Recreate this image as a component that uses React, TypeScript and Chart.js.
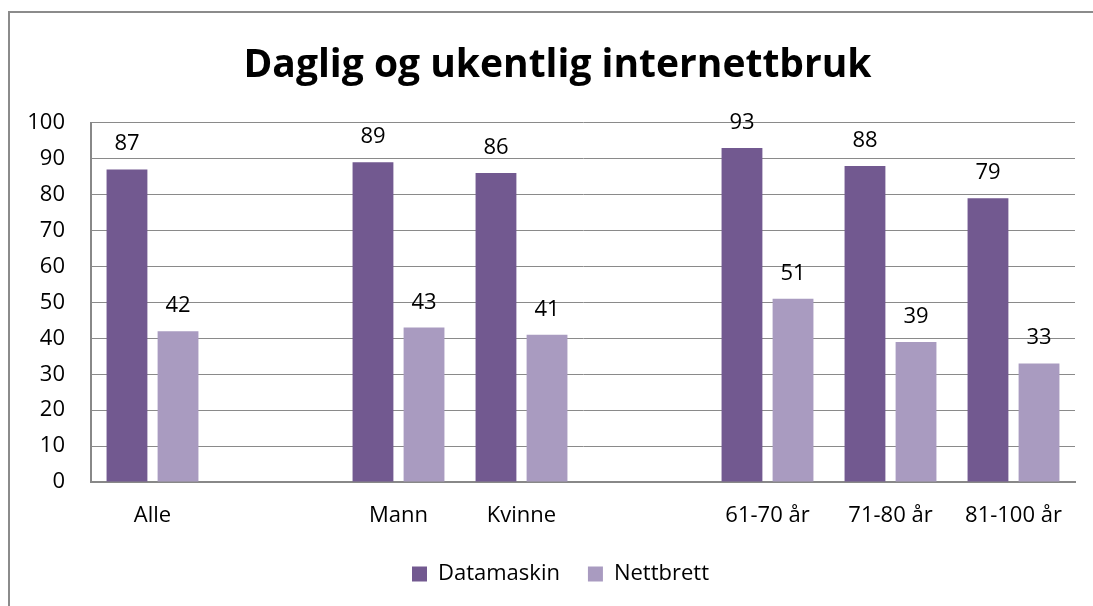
import React, { useEffect, useRef } from "react";
import { Chart, registerables } from "chart.js";

Chart.register(...registerables);

const categories = ["Alle", "", "Mann", "Kvinne", "", "61-70 år", "71-80 år", "81-100 år"];
const datamaskin = [87, null, 89, 86, null, 93, 88, 79];
const nettbrett = [42, null, 43, 41, null, 51, 39, 33];
const yTicks = [0, 10, 20, 30, 40, 50, 60, 70, 80, 90, 100];

const FONT = "'Open Sans', 'Noto Sans', sans-serif";

const valueLabels = {
  id: "valueLabels",
  afterDatasetsDraw(chart: any) {
    const ctx = chart.ctx;
    ctx.save();
    ctx.font = `22px ${FONT}`;
    ctx.fillStyle = "#000";
    ctx.textAlign = "center";
    ctx.textBaseline = "alphabetic";
    chart.data.datasets.forEach((ds: any, i: number) => {
      const meta = chart.getDatasetMeta(i);
      meta.data.forEach((el: any, j: number) => {
        const v = ds.data[j];
        if (v === null || v === undefined) return;
        ctx.fillText(String(v), el.x, el.y - 19);
      });
    });
    ctx.restore();
  },
};

const shiftBoxes = {
  id: "shiftBoxes",
  afterLayout(chart: any) {
    if (chart.titleBlock) {
      chart.titleBlock.left += 20;
      chart.titleBlock.right += 20;
    }
    if (chart.legend) {
      chart.legend.left += 23;
      chart.legend.right += 23;
    }
  },
};

export default function App() {
  const ref = useRef<HTMLCanvasElement | null>(null);
  useEffect(() => {
    if (!ref.current) return;
    const chart = new Chart(ref.current, {
      type: "bar",
      data: {
        labels: categories,
        datasets: [
          { label: "Datamaskin", data: datamaskin, backgroundColor: "#725990" },
          { label: "Nettbrett", data: nettbrett, backgroundColor: "#a99bc0" },
        ],
      },
      options: {
        animation: false,
        responsive: false,
        maintainAspectRatio: false,
        layout: { padding: { left: 0, right: 18, top: 42, bottom: 17 } },
        datasets: { bar: { categoryPercentage: 0.83, barPercentage: 0.8 } },
        plugins: {
          title: {
            display: true,
            text: "Daglig og ukentlig internettbruk",
            color: "#000",
            font: { family: FONT, size: 39, weight: "bold" },
            padding: { top: 0, bottom: 34 },
          },
          legend: {
            position: "bottom",
            labels: {
              color: "#000",
              font: { family: FONT, size: 22 },
              boxWidth: 15,
              boxHeight: 15,
              padding: 28,
            },
          },
          tooltip: { enabled: false },
        },
        scales: {
          x: {
            grid: { display: false, drawTicks: false },
            border: { display: true, color: "#888", width: 2 },
            ticks: { color: "#000", font: { family: FONT, size: 22 }, padding: 21, maxRotation: 0 },
            afterFit(scale: any) {
              scale.height = 53;
            },
          },
          y: {
            min: 0,
            max: 100,
            afterBuildTicks(scale: any) {
              scale.ticks = yTicks.map((v) => ({ value: v }));
            },
            grid: { color: "#8a8a8a", lineWidth: 1, drawTicks: false },
            border: { display: true, color: "#888", width: 2 },
            ticks: { color: "#000", font: { family: FONT, size: 22 }, padding: 26 },
            afterFit(scale: any) {
              scale.width = 91;
            },
          },
        },
      },
      plugins: [valueLabels, shiftBoxes],
    });
    return () => chart.destroy();
  }, []);

  return (
    <div style={{ position: "fixed", left: 0, top: 0, width: 1093, height: 606, overflow: "hidden", background: "#fff" }}>
      <div
        style={{
          position: "absolute",
          left: 8,
          top: 11,
          width: 1200,
          height: 800,
          borderLeft: "2px solid #8b8b8b",
          borderTop: "2px solid #8b8b8b",
        }}
      />
      <canvas ref={ref} width={1093} height={612} style={{ position: "absolute", left: 0, top: 0 }} />
    </div>
  );
}
